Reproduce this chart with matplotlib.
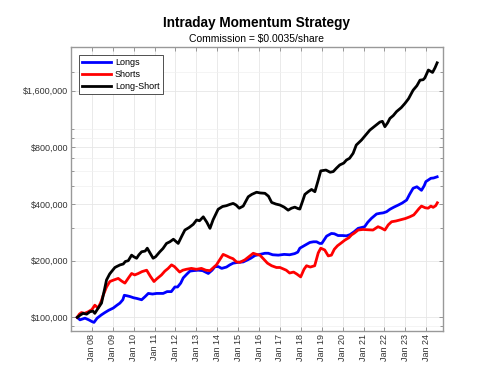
import matplotlib
matplotlib.use('Agg')
import matplotlib.pyplot as plt
import matplotlib.ticker as mticker
import numpy as np

plt.rcParams['font.family'] = ['Liberation Sans', 'DejaVu Sans']

#values (year as decimal, equity in $ thousands)
long_short_t = [2007.30, 2007.45, 2007.58, 2007.75, 2007.90, 2008.05, 2008.14, 2008.30, 2008.46, 2008.60,
                2008.70, 2008.85, 2008.94, 2009.10, 2009.18, 2009.35, 2009.50, 2009.60, 2009.74, 2009.90,
                2010.00, 2010.14, 2010.25, 2010.38, 2010.55, 2010.65, 2010.80, 2010.93, 2011.05, 2011.25,
                2011.40, 2011.57, 2011.73, 2011.90, 2012.13, 2012.30, 2012.45, 2012.65, 2012.85, 2013.01,
                2013.15, 2013.33, 2013.50, 2013.65, 2013.80, 2014.04, 2014.25, 2014.44, 2014.60, 2014.76,
                2014.90, 2015.05, 2015.24, 2015.48, 2015.65, 2015.88, 2016.05, 2016.28, 2016.45, 2016.60,
                2016.80, 2017.00, 2017.20, 2017.39, 2017.55, 2017.71, 2017.87, 2017.95, 2018.10, 2018.19,
                2018.35, 2018.51, 2018.67, 2018.83, 2018.95, 2019.20, 2019.40, 2019.55, 2019.70, 2019.86,
                2020.05, 2020.18, 2020.33, 2020.50, 2020.65, 2020.90, 2021.10, 2021.30, 2021.55, 2021.78,
                2021.90, 2022.02, 2022.15, 2022.26, 2022.42, 2022.58, 2022.80, 2022.98, 2023.15, 2023.37,
                2023.55, 2023.70, 2023.85, 2023.93, 2024.10, 2024.20, 2024.30, 2024.42, 2024.52]
long_short = [100, 103, 105, 104, 107, 108, 105, 112, 119, 140,
              158, 170, 175, 184, 186, 190, 192, 198, 200, 214,
              210, 206, 215, 223, 225, 233, 218, 206, 210, 223,
              232, 247, 252, 260, 247, 270, 291, 300, 312, 329,
              326, 342, 320, 297, 330, 375, 388, 392, 398, 403,
              395, 380, 390, 437, 450, 462, 458, 456, 440, 408,
              400, 395, 385, 371, 380, 385, 378, 376, 420, 450,
              465, 478, 465, 536, 600, 606, 590, 595, 620, 645,
              660, 685, 700, 744, 823, 875, 930, 988, 1040, 1090,
              1100, 1030, 1080, 1140, 1180, 1240, 1300, 1370, 1450, 1610,
              1700, 1820, 1830, 1870, 2060, 2030, 2000, 2120, 2250]

shorts_t = [2007.30, 2007.40, 2007.50, 2007.65, 2007.82, 2008.00, 2008.14, 2008.30, 2008.45, 2008.54,
            2008.70, 2008.86, 2009.05, 2009.26, 2009.42, 2009.58, 2009.75, 2009.90, 2010.05, 2010.22,
            2010.40, 2010.62, 2010.80, 2010.97, 2011.10, 2011.33, 2011.49, 2011.65, 2011.81, 2011.95,
            2012.20, 2012.35, 2012.52, 2012.76, 2013.00, 2013.24, 2013.45, 2013.65, 2013.96, 2014.15,
            2014.28, 2014.45, 2014.60, 2014.75, 2014.92, 2015.08, 2015.32, 2015.56, 2015.72, 2015.88,
            2016.04, 2016.20, 2016.40, 2016.60, 2016.83, 2017.00, 2017.15, 2017.30, 2017.46, 2017.65,
            2017.80, 2017.99, 2018.15, 2018.27, 2018.45, 2018.66, 2018.83, 2018.95, 2019.14, 2019.31,
            2019.46, 2019.60, 2019.75, 2019.90, 2020.10, 2020.30, 2020.42, 2020.55, 2020.74, 2020.97,
            2021.20, 2021.45, 2021.69, 2021.85, 2022.02, 2022.18, 2022.34, 2022.55, 2022.82, 2023.00,
            2023.21, 2023.40, 2023.53, 2023.65, 2023.77, 2023.95, 2024.09, 2024.22, 2024.33, 2024.45,
            2024.53]
shorts = [100, 104, 106, 105, 107, 110, 116, 112, 122, 131,
          145, 155, 158, 161, 156, 152, 162, 171, 168, 171,
          175, 178, 165, 155, 160, 168, 176, 182, 190, 186,
          174, 178, 180, 182, 180, 182, 178, 177, 190, 205,
          216, 212, 208, 205, 197, 196, 202, 212, 219, 216,
          214, 205, 194, 188, 184, 184, 181, 178, 172, 174,
          170, 164, 180, 188, 185, 188, 220, 233, 228, 212,
          214, 230, 240, 247, 257, 265, 274, 280, 291, 293,
          292, 291, 303, 298, 291, 310, 322, 325, 331, 335,
          342, 350, 364, 378, 390, 382, 380, 390, 384, 392,
          406]

longs_t = [2007.30, 2007.43, 2007.55, 2007.67, 2007.85, 2008.00, 2008.10, 2008.25, 2008.45, 2008.62,
           2008.80, 2009.02, 2009.20, 2009.34, 2009.48, 2009.55, 2009.70, 2009.82, 2010.00, 2010.15,
           2010.38, 2010.55, 2010.70, 2010.90, 2011.10, 2011.41, 2011.60, 2011.80, 2011.97, 2012.10,
           2012.25, 2012.37, 2012.55, 2012.69, 2012.85, 2013.09, 2013.30, 2013.57, 2013.75, 2013.89,
           2014.05, 2014.21, 2014.44, 2014.60, 2014.76, 2015.00, 2015.24, 2015.45, 2015.60, 2015.80,
           2016.04, 2016.28, 2016.44, 2016.65, 2016.92, 2017.20, 2017.46, 2017.70, 2017.85, 2017.95,
           2018.15, 2018.43, 2018.60, 2018.75, 2018.90, 2019.00, 2019.23, 2019.46, 2019.60, 2019.78,
           2020.00, 2020.18, 2020.35, 2020.55, 2020.74, 2020.90, 2021.05, 2021.20, 2021.38, 2021.62,
           2021.78, 2021.94, 2022.10, 2022.26, 2022.45, 2022.66, 2022.85, 2023.06, 2023.20, 2023.37,
           2023.55, 2023.77, 2023.90, 2023.98, 2024.09, 2024.22, 2024.35, 2024.52]
longs = [100, 97, 98, 99, 97, 95, 94, 99, 103, 106,
         109, 112, 116, 119, 124, 131, 130, 129, 127, 126,
         124, 129, 134, 133, 134, 134, 137, 137, 145, 145,
         152, 162, 170, 176, 177, 178, 177, 171, 178, 186,
         186, 182, 185, 190, 194, 196, 197, 202, 206, 213,
         216, 219, 219, 215, 214, 216, 215, 218, 222, 233,
         240, 250, 252, 252, 247, 247, 270, 279, 278, 272,
         272, 271, 275, 285, 297, 300, 303, 320, 336, 354,
         357, 359, 364, 375, 385, 395, 405, 420, 450, 485,
         494, 473, 500, 526, 536, 548, 550, 558]

years = list(range(2008, 2025))
year_labels = ['Jan %02d' % (y % 100) for y in years]
y_major = [100000, 200000, 400000, 800000, 1600000]

fig = plt.figure(figsize=(4.81, 3.81), dpi=100)
ax = fig.add_axes([0.1476, 0.1312, 0.7734, 0.7454])

ax.plot(longs_t, np.array(longs) * 1000, color='#0000ff', lw=2.0, label='Longs', zorder=3)
ax.plot(shorts_t, np.array(shorts) * 1000, color='#ff0000', lw=2.0, label='Shorts', zorder=3)
ax.plot(long_short_t, np.array(long_short) * 1000, color='black', lw=2.0, label='Long-Short', zorder=4)

ax.set_yscale('log')
ax.set_ylim(84600, 2730000)
ax.set_xlim(2007.0, 2024.8)

ax.set_yticks(y_major)
ax.yaxis.set_major_formatter(mticker.FuncFormatter(lambda v, p: '${:,.0f}'.format(v)))
ax.yaxis.set_minor_locator(mticker.FixedLocator(
    [90000, 300000, 500000, 600000, 700000, 900000, 1000000, 2000000]))
ax.yaxis.set_minor_formatter(mticker.NullFormatter())
ax.set_xticks(years)
ax.set_xticklabels(year_labels, rotation=90)

ax.tick_params(which='both', direction='in', top=True, right=True, colors='#888888',
               labelcolor='#333333', labelsize=6.5, width=0.6, pad=2)
ax.tick_params(which='major', length=3)
ax.tick_params(which='minor', length=2)
for s in ax.spines.values():
    s.set_color('#999999')
    s.set_linewidth(1.0)

ax.grid(True, which='major', color='#e6e6e6', lw=0.6, zorder=0)
ax.grid(True, which='minor', axis='y', color='#f0f0f0', lw=0.5, zorder=0)
ax.set_axisbelow(True)

leg = ax.legend(loc='upper left', fontsize=6.5, handlelength=3.2, borderaxespad=0.9,
                fancybox=False, edgecolor='#333333', framealpha=1, labelspacing=0.3,
                borderpad=0.35, handletextpad=0.4)
leg.get_frame().set_linewidth(0.6)

fig.text(0.534, 0.94, 'Intraday Momentum Strategy', ha='center', va='center',
         fontsize=9.8, fontweight='bold')
fig.text(0.534, 0.897, 'Commission = $0.0035/share', ha='center', va='center', fontsize=7.5)

fig.savefig('out.png', dpi=100)
